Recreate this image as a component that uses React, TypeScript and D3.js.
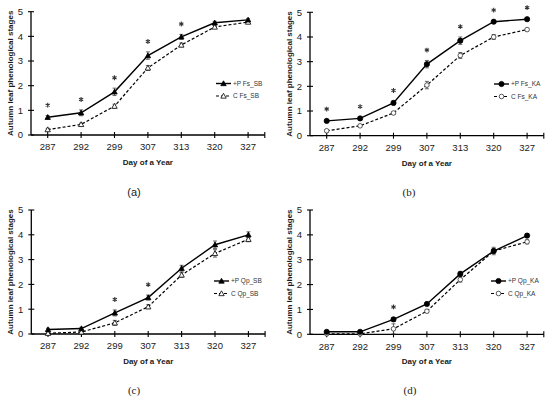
import React from "react";
import * as d3 from "d3";

const days = ["287", "292", "299", "307", "313", "320", "327"];
const yTicks = [0, 1, 2, 3, 4, 5];

const aP = [0.72, 0.9, 1.75, 3.22, 3.98, 4.55, 4.67];
const aC = [0.22, 0.43, 1.17, 2.72, 3.65, 4.38, 4.58];
const aPErr = [0.07, 0.12, 0.15, 0.15, 0.1, 0.06, 0.05];
const aCErr = [0.05, 0.05, 0.08, 0.1, 0.08, 0.06, 0.05];
const aStar = [1, 1, 1, 1, 1, 0, 0];

const bP = [0.6, 0.7, 1.33, 2.9, 3.85, 4.62, 4.72];
const bC = [0.2, 0.4, 0.92, 2.05, 3.25, 4.0, 4.3];
const bPErr = [0.06, 0.06, 0.08, 0.15, 0.15, 0.05, 0.05];
const bCErr = [0.05, 0.05, 0.06, 0.15, 0.12, 0.1, 0.05];
const bStar = [1, 1, 1, 1, 1, 1, 1];

const cP = [0.18, 0.22, 0.85, 1.47, 2.65, 3.6, 4.0];
const cC = [0.03, 0.08, 0.45, 1.1, 2.38, 3.25, 3.82];
const cPErr = [0.05, 0.05, 0.12, 0.1, 0.12, 0.15, 0.12];
const cCErr = [0.03, 0.03, 0.1, 0.08, 0.1, 0.15, 0.1];
const cStar = [0, 0, 1, 1, 0, 0, 0];

const dP = [0.1, 0.1, 0.6, 1.22, 2.43, 3.35, 3.97];
const dC = [0.02, 0.02, 0.22, 0.93, 2.2, 3.35, 3.72];
const dPErr = [0.05, 0.05, 0.08, 0.06, 0.1, 0.15, 0.08];
const dCErr = [0.03, 0.03, 0.2, 0.06, 0.1, 0.1, 0.08];
const dStar = [0, 0, 1, 0, 0, 0, 0];

const legendA = ["+P Fs_SB", "C Fs_SB"];
const legendB = ["+P Fs_KA", "C Fs_KA"];
const legendC = ["+P Qp_SB", "C Qp_SB"];
const legendD = ["+P Qp_KA", "C Qp_KA"];

const yTitle = "Autumn leaf phenological stages";
const xTitle = "Day of a Year";

type PanelProps = {
  ax: number; y0: number; y5: number;
  p: number[]; c: number[]; pErr: number[]; cErr: number[]; star: number[];
  legend: string[]; marker: "tri" | "circ";
  legX: number; legY: number;
  label: string; labelX: number; labelY: number; labelFont: string;
};

const TXT = "#1a1a1a";
const SANS = "'Liberation Sans', Arial, sans-serif";
const SERIF = "'Liberation Serif', 'Times New Roman', serif";
const starPath = d3.symbol().type(d3.symbolAsterisk).size(16)() as string;

function Marker({ x, y, kind, filled }: { x: number; y: number; kind: "tri" | "circ"; filled: boolean }) {
  if (kind === "tri") {
    const s = 2.7;
    const path = `M${x},${y - s} L${x + s},${y + s * 0.8} L${x - s},${y + s * 0.8} Z`;
    return <path d={path} fill={filled ? "#000" : "#fff"} stroke="#000" strokeWidth={0.8} />;
  }
  return <circle cx={x} cy={y} r={filled ? 2.6 : 2.3} fill={filled ? "#000" : "#fff"} stroke={filled ? "#000" : "#333"} strokeWidth={0.8} />;
}

function Panel(props: PanelProps) {
  const { ax, y0, y5, p, c, pErr, cErr, star, legend, marker, legX, legY } = props;
  const step = 33.4;
  const x = d3.scaleBand<string>().domain(days).range([ax, ax + step * days.length]).padding(0);
  const y = d3.scaleLinear().domain([0, 5]).range([y0, y5]);
  const cx = (d: string) => (x(d) as number) + x.bandwidth() / 2;
  const line = d3.line<number>().x((_, i) => cx(days[i])).y((v) => y(v));
  const xEnd = ax + step * days.length;
  const midY = (y0 + y5) / 2;
  const midX = (ax + xEnd) / 2;

  return (
    <g style={{ fontFamily: SANS }}>
      <line x1={ax} x2={ax} y1={y5} y2={y0} stroke="#000" strokeWidth={1.3} />
      <line x1={ax} x2={xEnd} y1={y0} y2={y0} stroke="#000" strokeWidth={1.3} />
      {yTicks.map((t) => (
        <g key={"yt" + t}>
          <line x1={ax - 3} x2={ax + 3} y1={y(t)} y2={y(t)} stroke="#000" strokeWidth={1.1} />
          <text x={ax - 8} y={y(t)} dy="0.35em" textAnchor="end" fontSize={9.5} fill={TXT}>{t}</text>
        </g>
      ))}
      {days.map((d) => (
        <g key={"xt" + d}>
          <line x1={cx(d)} x2={cx(d)} y1={y0 - 3} y2={y0 + 3} stroke="#000" strokeWidth={1.1} />
          <text x={cx(d)} y={y0 + 12} dy="0.35em" textAnchor="middle" fontSize={9.5} fill={TXT}>{d}</text>
        </g>
      ))}
      <line x1={xEnd} x2={xEnd} y1={y0 - 3} y2={y0 + 3} stroke="#000" strokeWidth={1.1} />
      <text x={midX} y={y0 + 27} dy="0.35em" textAnchor="middle" fontSize={8} fontWeight="bold" fill={TXT}>{xTitle}</text>
      <text transform={`translate(${ax - 21},${midY}) rotate(-90)`} textAnchor="middle" dy="0.35em" fontSize={8} fontWeight="bold" fill={TXT}>{yTitle}</text>

      {[{ v: c, e: cErr }, { v: p, e: pErr }].map((s, si) =>
        s.v.map((v, i) => {
          const xx = cx(days[i]);
          return (
            <g key={"eb" + si + i} stroke="#444" strokeWidth={0.8}>
              <line x1={xx} x2={xx} y1={y(v - s.e[i])} y2={y(v + s.e[i])} />
              <line x1={xx - 2} x2={xx + 2} y1={y(v - s.e[i])} y2={y(v - s.e[i])} />
              <line x1={xx - 2} x2={xx + 2} y1={y(v + s.e[i])} y2={y(v + s.e[i])} />
            </g>
          );
        })
      )}

      <path d={line(c) as string} fill="none" stroke="#000" strokeWidth={1.2} strokeDasharray="3,2" />
      <path d={line(p) as string} fill="none" stroke="#000" strokeWidth={1.4} />
      {c.map((v, i) => <Marker key={"mc" + i} x={cx(days[i])} y={y(v)} kind={marker} filled={false} />)}
      {p.map((v, i) => <Marker key={"mp" + i} x={cx(days[i])} y={y(v)} kind={marker} filled={true} />)}

      {star.map((s, i) =>
        s ? (
          <path key={"st" + i} d={starPath} transform={`translate(${cx(days[i])},${y(p[i] + pErr[i] + 0.42)})`} fill="none" stroke="#333" strokeWidth={1.1} />
        ) : null
      )}

      {legend.map((lab, li) => {
        const ly = legY + li * 12.5;
        return (
          <g key={"lg" + li}>
            <line x1={legX} x2={legX + 15} y1={ly} y2={ly} stroke="#000" strokeWidth={li === 0 ? 1.4 : 1.2} strokeDasharray={li === 0 ? undefined : "3,2"} />
            <Marker x={legX + 7.5} y={ly} kind={marker} filled={li === 0} />
            <text x={legX + 17} y={ly} dy="0.35em" fontSize={6.5} fill="#333">{lab}</text>
          </g>
        );
      })}

      <text x={props.labelX} y={props.labelY} dy="0.35em" textAnchor="middle" fontSize={11} style={{ fontFamily: props.labelFont }} fill={TXT}>{props.label}</text>
    </g>
  );
}

export default function App() {
  return (
    <svg width={550} height={399} style={{ position: "absolute", left: 0, top: 0, background: "#fff" }}>
      <rect width={550} height={399} fill="#fff" />
      <Panel ax={31} y0={135} y5={11.7} p={aP} c={aC} pErr={aPErr} cErr={aCErr} star={aStar}
        legend={legendA} marker="tri" legX={216} legY={83.5} label="(a)" labelX={134} labelY={192} labelFont={SANS} />
      <Panel ax={310} y0={135.7} y5={12.3} p={bP} c={bC} pErr={bPErr} cErr={bCErr} star={bStar}
        legend={legendB} marker="circ" legX={494} legY={84} label="(b)" labelX={409} labelY={192} labelFont={SERIF} />
      <Panel ax={31.3} y0={334} y5={210} p={cP} c={cC} pErr={cPErr} cErr={cCErr} star={cStar}
        legend={legendC} marker="tri" legX={214} legY={281} label="(c)" labelX={134} labelY={390} labelFont={SERIF} />
      <Panel ax={310} y0={334.3} y5={210} p={dP} c={dC} pErr={dPErr} cErr={dCErr} star={dStar}
        legend={legendD} marker="circ" legX={491} legY={281} label="(d)" labelX={410} labelY={390} labelFont={SERIF} />
    </svg>
  );
}
